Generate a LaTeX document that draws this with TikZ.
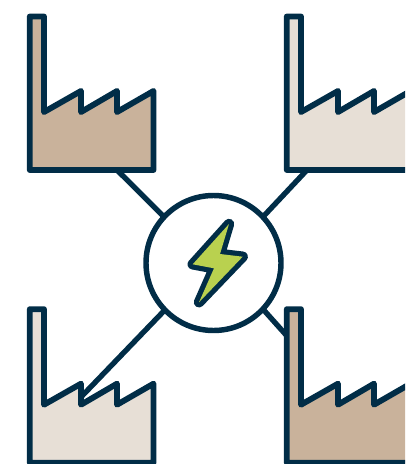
\documentclass[tikz,border=0pt]{standalone}
\definecolor{navy}{HTML}{012D47}
\definecolor{tan}{HTML}{C9B29B}
\definecolor{pale}{HTML}{E7DFD6}
\definecolor{bolt}{HTML}{B9D14F}
\tikzset{
  factoryshape/.style={draw=navy,line width=4.4pt,line join=round},
  link/.style={draw=navy,line width=4pt},
  hubnode/.style={circle,draw=navy,fill=white,line width=4.1pt,inner sep=0pt,outer sep=0pt,minimum size=101.25pt},
  boltrim/.style={draw=navy,fill=navy,line width=7.8pt,line join=round},
  boltface/.style={fill=bolt},
  boltpath/.style={insert path={(229,224) -- (220,254) -- (242.7,256.7) -- (199,302.3) -- (214,268.3) -- (192.7,264.3) -- cycle}},
}
\newcommand{\factory}[3]{%
  \begin{scope}[shift={(#1,#2)}]
    \path[factoryshape,fill=#3]
      (29.8,16.5) -- (44,16.5) -- (44,112) -- (81,91) -- (81,112) -- (117,91) -- (117,112) -- (153.5,91)
      -- (153.5,170) -- (29.8,170) -- cycle;
  \end{scope}}
\begin{document}
\begin{tikzpicture}[x=0.75pt,y=-0.75pt]
  \useasboundingbox (0,0) rectangle (405,464);
  \clip (0,0) rectangle (405,464);
  \node[hubnode] (hub) at (213.5,263) {};
  \coordinate (ftl) at (117,170);
  \coordinate (ftr) at (307,170);
  \coordinate (fbl) at (82,396);
  \coordinate (fbr) at (287,336);
  \draw[link] (hub.137) -- (ftl);
  \draw[link] (hub.43) -- (ftr);
  \draw[link] (hub.224) -- (fbl);
  \draw[link] (hub.-43) -- (fbr);
  \factory{0}{0}{tan}
  \factory{257}{0}{pale}
  \factory{0}{292.7}{pale}
  \factory{257}{292.7}{tan}
  \path[boltrim,boltpath];
  \path[boltface,boltpath];
\end{tikzpicture}
\end{document}
